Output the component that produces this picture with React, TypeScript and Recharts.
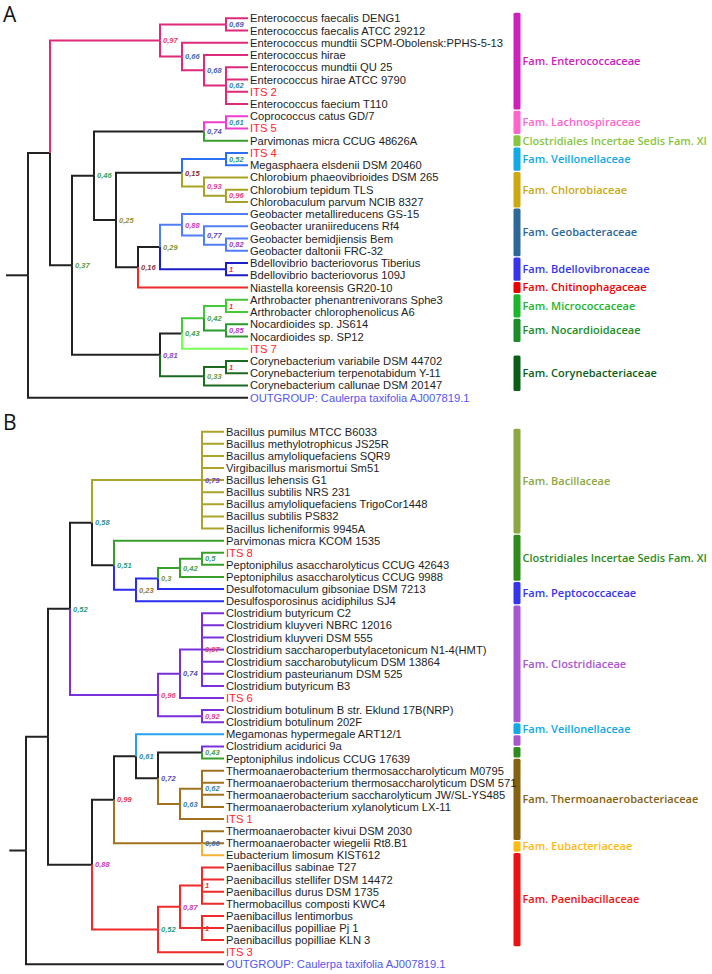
import React from "react";
import { ComposedChart, Line, Scatter, XAxis, YAxis, ReferenceArea } from "recharts";

// branch colours
const BLACK = "#222222";
const ENTERO = "#dd2a7b";
const LACHNO = "#f03cd0";
const GREEN = "#38a02a";
const VEIL = "#2c6ff5";
const OLIVE = "#a8a123";
const GEO = "#4f7ff7";
const BDELLO = "#1c1fc8";
const RED = "#ee2a2a";
const ARTHRO = "#44c83a";
const NOCARD = "#2a9a2f";
const ITS7 = "#77ff55";
const CORYNE = "#1c6a22";
const BACIL = "#aaa52a";
const PEPTO = "#2a2cf0";
const CLOS = "#7a30d8";
const SKY = "#2aa0f0";
const BROWN = "#a0721e";
const ORANGE = "#f5b234";

// ---------- panel A ----------
// [taxon, parent node, branch colour] top to bottom
const leavesA: [string, string, string][] = [
  ["Enterococcus faecalis DENG1", "E0a", ENTERO],
  ["Enterococcus faecalis ATCC 29212", "E0a", ENTERO],
  ["Enterococcus mundtii SCPM-Obolensk:PPHS-5-13", "E1", ENTERO],
  ["Enterococcus hirae", "E2", ENTERO],
  ["Enterococcus mundtii QU 25", "E3", ENTERO],
  ["Enterococcus hirae ATCC 9790", "E3", ENTERO],
  ["ITS 2", "E3", ENTERO],
  ["Enterococcus faecium T110", "E3", ENTERO],
  ["Coprococcus catus GD/7", "L1", LACHNO],
  ["ITS 5", "L1", LACHNO],
  ["Parvimonas micra CCUG 48626A", "L0", GREEN],
  ["ITS 4", "V0", VEIL],
  ["Megasphaera elsdenii DSM 20460", "V0", VEIL],
  ["Chlorobium phaeovibrioides DSM 265", "C0", OLIVE],
  ["Chlorobium tepidum TLS", "C1", OLIVE],
  ["Chlorobaculum parvum NCIB 8327", "C1", OLIVE],
  ["Geobacter metallireducens GS-15", "G1", GEO],
  ["Geobacter uraniireducens Rf4", "G2", GEO],
  ["Geobacter bemidjiensis Bem", "G3", GEO],
  ["Geobacter daltonii FRC-32", "G3", GEO],
  ["Bdellovibrio bacteriovorus Tiberius", "B0", BDELLO],
  ["Bdellovibrio bacteriovorus 109J", "B0", BDELLO],
  ["Niastella koreensis GR20-10", "N6", RED],
  ["Arthrobacter phenantrenivorans Sphe3", "K3", ARTHRO],
  ["Arthrobacter chlorophenolicus A6", "K3", ARTHRO],
  ["Nocardioides sp. JS614", "K4", NOCARD],
  ["Nocardioides sp. SP12", "K4", NOCARD],
  ["ITS 7", "K1", ITS7],
  ["Corynebacterium variabile DSM 44702", "K6", CORYNE],
  ["Corynebacterium terpenotabidum Y-11", "K6", CORYNE],
  ["Corynebacterium callunae DSM 20147", "K5", CORYNE],
  ["OUTGROUP: Caulerpa taxifolia AJ007819.1", "R", BLACK],
];

// [node, parent, support, branch colour]
const nodesA: [string, string | null, string, string][] = [
  ["R", null, "", BLACK],
  ["N1", "R", "", BLACK],
  ["E0", "N1", "0,97", ENTERO],
  ["E0a", "E0", "0,69", ENTERO],
  ["E1", "E0", "0,66", ENTERO],
  ["E2", "E1", "0,68", ENTERO],
  ["E3", "E2", "0,62", ENTERO],
  ["N2", "N1", "0,37", BLACK],
  ["N3", "N2", "0,46", BLACK],
  ["L0", "N3", "0,74", BLACK],
  ["L1", "L0", "0,61", LACHNO],
  ["N4", "N3", "0,25", BLACK],
  ["N5", "N4", "0,15", BLACK],
  ["V0", "N5", "0,52", VEIL],
  ["C0", "N5", "0,93", OLIVE],
  ["C1", "C0", "0,96", OLIVE],
  ["N6", "N4", "0,16", BLACK],
  ["N7", "N6", "0,29", BLACK],
  ["G1", "N7", "0,88", GEO],
  ["G2", "G1", "0,77", GEO],
  ["G3", "G2", "0,82", GEO],
  ["B0", "N7", "1", BDELLO],
  ["K0", "N2", "0,81", BLACK],
  ["K1", "K0", "0,43", BLACK],
  ["K2", "K1", "0,42", ARTHRO],
  ["K3", "K2", "1", ARTHRO],
  ["K4", "K2", "0,85", NOCARD],
  ["K5", "K0", "0,33", CORYNE],
  ["K6", "K5", "1", CORYNE],
];

// [family, first leaf, last leaf, colour]
const familiesA: [string, number, number, string][] = [
  ["Fam. Enterococcaceae", 0, 7, "#cc22bb"],
  ["Fam. Lachnospiraceae", 8, 9, "#ff66cc"],
  ["Clostridiales Incertae Sedis Fam. XI", 10, 10, "#88c540"],
  ["Fam. Veillonellaceae", 11, 12, "#11a9e6"],
  ["Fam. Chlorobiaceae", 13, 15, "#cca813"],
  ["Fam. Geobacteraceae", 16, 19, "#2e6898"],
  ["Fam. Bdellovibronaceae", 20, 21, "#3535ee"],
  ["Fam. Chitinophagaceae", 22, 22, "#ee0000"],
  ["Fam. Micrococcaceae", 23, 24, "#1db52d"],
  ["Fam. Nocardioidaceae", 25, 26, "#1a8c29"],
  ["Fam. Corynebacteriaceae", 28, 30, "#0b5e17"],
];

// ---------- panel B ----------
const leavesB: [string, string, string][] = [
  ["Bacillus pumilus MTCC B6033", "BA", BACIL],
  ["Bacillus methylotrophicus JS25R", "BA", BACIL],
  ["Bacillus amyloliquefaciens SQR9", "BA", BACIL],
  ["Virgibacillus marismortui Sm51", "BA", BACIL],
  ["Bacillus lehensis G1", "BA", BACIL],
  ["Bacillus subtilis NRS 231", "BA", BACIL],
  ["Bacillus amyloliquefaciens TrigoCor1448", "BA", BACIL],
  ["Bacillus subtilis PS832", "BA", BACIL],
  ["Bacillus licheniformis 9945A", "BA", BACIL],
  ["Parvimonas micra KCOM 1535", "BN4", GREEN],
  ["ITS 8", "BN8", GREEN],
  ["Peptoniphilus asaccharolyticus CCUG 42643", "BN8", GREEN],
  ["Peptoniphilus asaccharolyticus CCUG 9988", "BN7", GREEN],
  ["Desulfotomaculum gibsoniae DSM 7213", "BN6", PEPTO],
  ["Desulfosporosinus acidiphilus SJ4", "BN5", PEPTO],
  ["Clostridium butyricum C2", "CLP", CLOS],
  ["Clostridium kluyveri NBRC 12016", "CLP", CLOS],
  ["Clostridium kluyveri DSM 555", "CLP", CLOS],
  ["Clostridium saccharoperbutylacetonicum N1-4(HMT)", "CLP", CLOS],
  ["Clostridium saccharobutylicum DSM 13864", "CLP", CLOS],
  ["Clostridium pasteurianum DSM 525", "CLP", CLOS],
  ["Clostridium butyricum B3", "CLP", CLOS],
  ["ITS 6", "CL2", CLOS],
  ["Clostridium botulinum B str. Eklund 17B(NRP)", "BOT", CLOS],
  ["Clostridium botulinum 202F", "BOT", CLOS],
  ["Megamonas hypermegale ART12/1", "BN10", SKY],
  ["Clostridium acidurici 9a", "BN12", CLOS],
  ["Peptoniphilus indolicus CCUG 17639", "BN12", GREEN],
  ["Thermoanaerobacterium thermosaccharolyticum M0795", "TA2", BROWN],
  ["Thermoanaerobacterium thermosaccharolyticum DSM 571", "TA2", BROWN],
  ["Thermoanaerobacterium saccharolyticum JW/SL-YS485", "TA2", BROWN],
  ["Thermoanaerobacterium xylanolyticum LX-11", "TA2", BROWN],
  ["ITS 1", "TA", BROWN],
  ["Thermoanaerobacter kivui DSM 2030", "TB", BROWN],
  ["Thermoanaerobacter wiegelii Rt8.B1", "TB", BROWN],
  ["Eubacterium limosum KIST612", "TB", ORANGE],
  ["Paenibacillus sabinae T27", "P3", RED],
  ["Paenibacillus stellifer DSM 14472", "P3", RED],
  ["Paenibacillus durus DSM 1735", "P3", RED],
  ["Thermobacillus composti KWC4", "P3", RED],
  ["Paenibacillus lentimorbus", "P4", RED],
  ["Paenibacillus popilliae Pj 1", "P4", RED],
  ["Paenibacillus popilliae KLN 3", "P4", RED],
  ["ITS 3", "P", RED],
  ["OUTGROUP: Caulerpa taxifolia AJ007819.1", "R", BLACK],
];

const nodesB: [string, string | null, string, string][] = [
  ["R", null, "", BLACK],
  ["BN1", "R", "", BLACK],
  ["BN2", "BN1", "0,52", BLACK],
  ["BN3", "BN2", "0,58", BLACK],
  ["BA", "BN3", "0,79", BACIL],
  ["BN4", "BN3", "0,51", BLACK],
  ["BN5", "BN4", "0,23", PEPTO],
  ["BN6", "BN5", "0,3", PEPTO],
  ["BN7", "BN6", "0,42", GREEN],
  ["BN8", "BN7", "0,5", GREEN],
  ["CL", "BN2", "0,96", CLOS],
  ["CL2", "CL", "0,74", CLOS],
  ["CLP", "CL2", "0,97", CLOS],
  ["BOT", "CL", "0,92", CLOS],
  ["BL", "BN1", "0,88", BLACK],
  ["BN9", "BL", "0,99", BLACK],
  ["BN10", "BN9", "0,61", BLACK],
  ["BN11", "BN10", "0,72", BLACK],
  ["BN12", "BN11", "0,43", BLACK],
  ["TA", "BN11", "0,63", BROWN],
  ["TA2", "TA", "0,62", BROWN],
  ["TB", "BN9", "0,66", BROWN],
  ["P", "BL", "0,52", RED],
  ["P2", "P", "0,87", RED],
  ["P3", "P2", "1", RED],
  ["P4", "P2", "1", RED],
];

const familiesB: [string, number, number, string][] = [
  ["Fam. Bacillaceae", 0, 8, "#8da843"],
  ["Clostridiales Incertae Sedis Fam. XI", 9, 12, "#2e8b1c"],
  ["Fam. Peptococcaceae", 13, 14, "#3535ee"],
  ["Fam. Clostridiaceae", 15, 24, "#a957cf"],
  ["Fam. Veillonellaceae", 25, 25, "#11a9e6"],
  ["", 26, 26, "#a957cf"],
  ["", 27, 27, "#2e8b1c"],
  ["Fam. Thermoanaerobacteriaceae", 28, 34, "#86620f"],
  ["Fam. Eubacteriaceae", 35, 35, "#ffbb11"],
  ["Fam. Paenibacillaceae", 36, 43, "#ee1111"],
];

const STEP = 22; // px per cladogram level
const BAR_LEFT = 513.5;
const BAR_RIGHT = 520.5;
const LEAF_FONT = "'Liberation Sans', Arial, sans-serif";

// colour ramp used for the support values
const RAMP: [number, string][] = [
  [0.15, "#8a2b2b"], [0.25, "#9a9030"], [0.33, "#6a9a3a"], [0.45, "#3f9f45"],
  [0.52, "#2f9a7a"], [0.6, "#2f8fa8"], [0.68, "#4a5fb0"], [0.77, "#5a48b8"],
  [0.82, "#9b3cc8"], [0.88, "#c83cbc"], [0.95, "#e04a85"], [1, "#ee3040"],
];
function supportColor(v: number) {
  const hex = (c: string) => [1, 3, 5].map((i) => parseInt(c.slice(i, i + 2), 16));
  if (v <= RAMP[0][0]) return RAMP[0][1];
  for (let i = 1; i < RAMP.length; i++) {
    if (v <= RAMP[i][0]) {
      const [v0, c0] = RAMP[i - 1];
      const [v1, c1] = RAMP[i];
      const t = (v - v0) / (v1 - v0);
      const a = hex(c0), b = hex(c1);
      return `rgb(${a.map((x, k) => Math.round(x + (b[k] - x) * t)).join(",")})`;
    }
  }
  return RAMP[RAMP.length - 1][1];
}

function buildTree(nodes: [string, string | null, string, string][], leaves: [string, string, string][]) {
  const parent: Record<string, string | null> = {};
  const color: Record<string, string> = {};
  const kids: Record<string, string[]> = {};
  const info: Record<string, { h: number; y: number }> = {};
  nodes.forEach(([id, p, , c]) => {
    parent[id] = p;
    color[id] = c;
    kids[id] = [];
  });
  leaves.forEach(([, p, c], i) => {
    const id = "leaf" + i;
    parent[id] = p;
    color[id] = c;
    info[id] = { h: 0, y: i };
  });
  Object.keys(parent).forEach((id) => {
    const p = parent[id];
    if (p) kids[p].push(id);
  });
  // cladogram: x from height above tips, y midway between outer children
  const place = (id: string): { h: number; y: number } => {
    if (info[id]) return info[id];
    const ch = kids[id].map(place);
    const ys = ch.map((c) => c.y);
    info[id] = { h: 1 + Math.max(...ch.map((c) => c.h)), y: (Math.min(...ys) + Math.max(...ys)) / 2 };
    return info[id];
  };
  const rootId = nodes.find((n) => n[1] === null)![0];
  place(rootId);

  const segs = Object.keys(parent)
    .filter((id) => parent[id])
    .map((id) => {
      const p = info[parent[id] as string];
      const c = info[id];
      return {
        id,
        color: color[id],
        pts: [
          { x: -p.h, y: p.y },
          { x: -p.h, y: c.y },
          { x: -c.h, y: c.y },
        ],
      };
    });
  const supports = nodes
    .filter((n) => n[2])
    .map(([id, , s]) => ({ x: -info[id].h, y: info[id].y, label: s, value: parseFloat(s.replace(",", ".")) }));
  const tips = leaves.map(([name], i) => ({ x: 0, y: i, name }));
  return { segs, supports, tips, root: info[rootId] };
}

function TipLabel(props: any) {
  const { cx, cy, payload } = props;
  const name: string = payload.name;
  const fill = name.startsWith("ITS") ? "#ff2626" : name.startsWith("OUTGROUP") ? "#5555f0" : "#1e1e1e";
  return (
    <text x={cx + 2} y={cy} dy="0.36em" fontSize={11.2} fontFamily={LEAF_FONT} fill={fill}>
      {name}
    </text>
  );
}

function SupportLabel(props: any) {
  const { cx, cy, payload } = props;
  return (
    <text
      x={cx + 3}
      y={cy}
      dy="0.36em"
      fontSize={7.5}
      fontStyle="italic"
      fontWeight="bold"
      fontFamily={LEAF_FONT}
      fill={supportColor(payload.value)}
    >
      {payload.label}
    </text>
  );
}

interface PanelProps {
  nodes: [string, string | null, string, string][];
  leaves: [string, string, string][];
  families: [string, number, number, string][];
  leafX: number;
  top: number;
  height: number;
  padTop: number;
  padBottom: number;
  famDomain?: [number, number];
  stub: number;
}

function Panel({ nodes, leaves, families, leafX, top, height, padTop, padBottom, famDomain, stub }: PanelProps) {
  const tree = buildTree(nodes, leaves);
  const last = leaves.length - 1;
  const stubSeg = [
    { x: -tree.root.h - stub, y: tree.root.y },
    { x: -tree.root.h, y: tree.root.y },
  ];
  return (
    <div style={{ position: "absolute", left: 0, top }}>
      <ComposedChart width={712} height={height} margin={{ top: padTop, right: 0, bottom: padBottom, left: 0 }}>
        <XAxis type="number" dataKey="x" domain={[-leafX / STEP, (712 - leafX) / STEP]} allowDataOverflow hide />
        <YAxis yAxisId="tree" type="number" dataKey="y" domain={[0, last]} reversed hide />
        <YAxis
          yAxisId="fam"
          type="number"
          dataKey="y"
          domain={famDomain ?? [0, last]}
          allowDataOverflow
          reversed
          hide
        />
        {families.map(([name, a, b, col]) => (
          <ReferenceArea
            key={name + a}
            yAxisId="fam"
            x1={(BAR_LEFT - leafX) / STEP}
            x2={(BAR_RIGHT - leafX) / STEP}
            y1={a - 0.45}
            y2={b + 0.45}
            ifOverflow="visible"
            fill={col}
            fillOpacity={1}
            shape={(p: any) => <rect x={p.x} y={p.y} width={p.width} height={p.height} rx={1.5} fill={col} />}
            label={
              name
                ? {
                    value: name,
                    position: "right",
                    offset: 2,
                    fill: col,
                    fontSize: 11,
                    fontWeight: 600,
                    fontFamily: "'Open Sans', sans-serif",
                  }
                : undefined
            }
          />
        ))}
        <Line
          yAxisId="tree"
          data={stubSeg}
          dataKey="y"
          stroke={BLACK}
          strokeWidth={2}
          dot={false}
          activeDot={false}
          isAnimationActive={false}
        />
        {tree.segs.map((s) => (
          <Line
            key={s.id}
            yAxisId="tree"
            data={s.pts}
            dataKey="y"
            type="linear"
            stroke={s.color}
            strokeWidth={2}
            strokeLinejoin="miter"
            dot={false}
            activeDot={false}
            isAnimationActive={false}
          />
        ))}
        <Scatter yAxisId="tree" data={tree.tips} shape={TipLabel} isAnimationActive={false} />
        <Scatter yAxisId="tree" data={tree.supports} shape={SupportLabel} isAnimationActive={false} />
      </ComposedChart>
    </div>
  );
}

export default function App() {
  const letter: React.CSSProperties = {
    position: "absolute",
    left: 3,
    fontSize: 21,
    lineHeight: "21px",
    fontFamily: "'Open Sans', sans-serif",
    color: "#111",
  };
  return (
    <div style={{ position: "absolute", left: 0, top: 0, width: 712, height: 974, background: "#fff", overflow: "hidden" }}>
      <Panel
        nodes={nodesA}
        leaves={leavesA}
        families={familiesA}
        leafX={248}
        top={0}
        height={430}
        padTop={18.3}
        padBottom={32.3}
        stub={1}
      />
      <Panel
        nodes={nodesB}
        leaves={leavesB}
        families={familiesB}
        leafX={224}
        top={420}
        height={554}
        padTop={11.7}
        padBottom={9.7}
        famDomain={[-0.19, 44.99]}
        stub={0.76}
      />
      <div style={{ ...letter, top: 4 }}>A</div>
      <div style={{ ...letter, top: 412 }}>B</div>
    </div>
  );
}
